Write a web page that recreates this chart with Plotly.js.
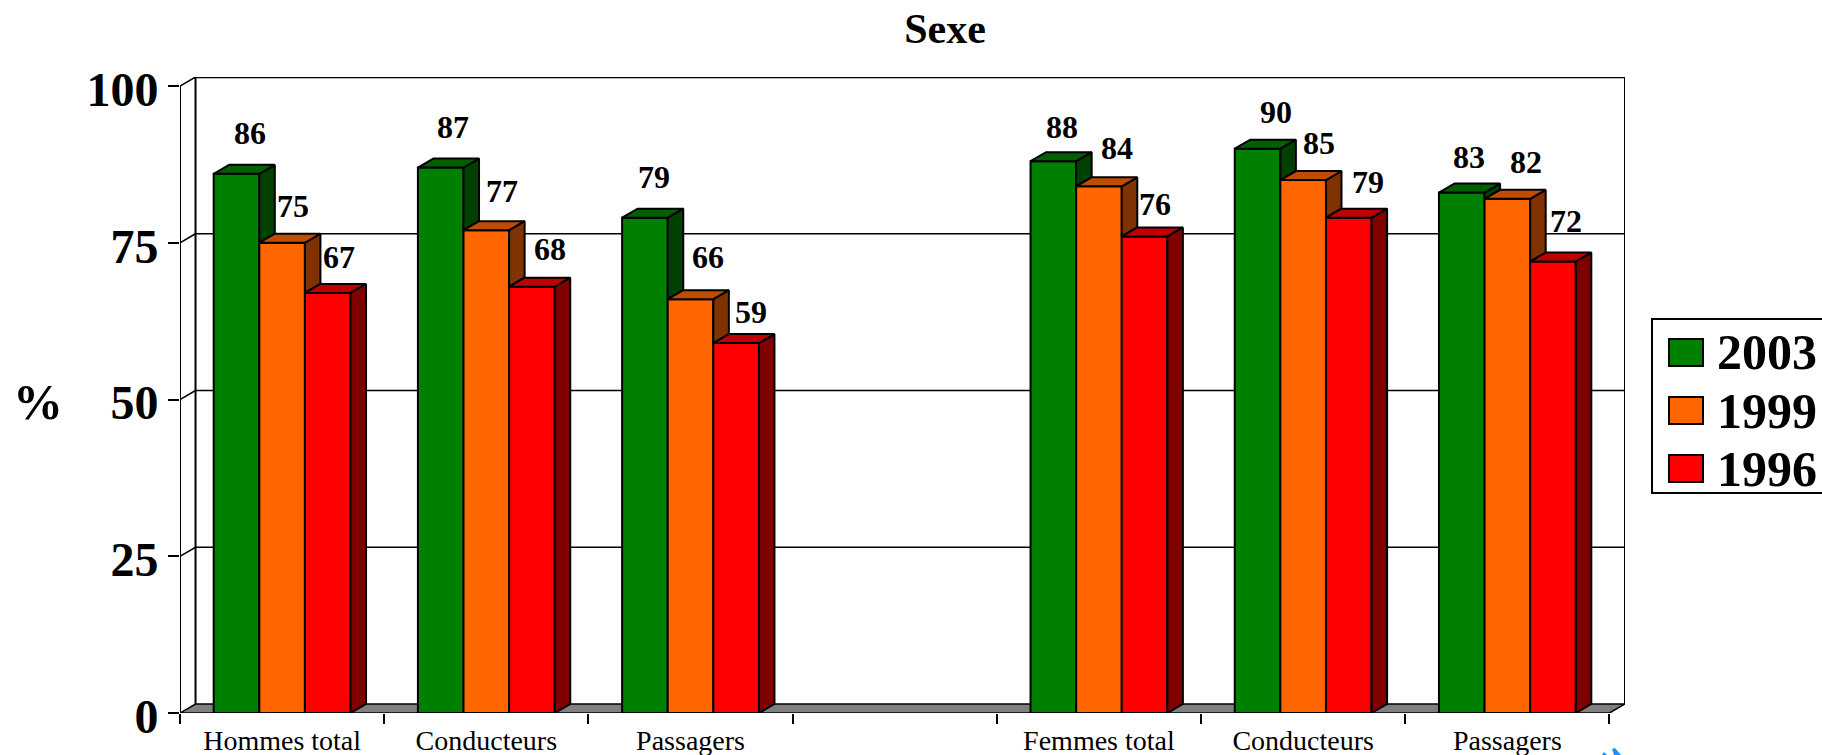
<!DOCTYPE html>
<html><head><meta charset="utf-8">
<script src="https://cdn.plot.ly/plotly-3.0.1.min.js"></script>
<style>html,body{margin:0;padding:0;background:#fff;overflow:hidden}#c{width:1822px;height:755px}</style>
</head><body><div id="c"></div>
<script>
const categories = ['Hommes total','Conducteurs','Passagers','','Femmes total','Conducteurs','Passagers'];
const years = ['2003','1999','1996'];
const v2003 = [86,87,79,null,88,90,83];
const v1999 = [75,77,66,null,84,85,82];
const v1996 = [67,68,59,null,76,79,72];
const yTicks = [0,25,50,75,100];
const front = ['#008000','#FF6600','#FF0000'];
const side  = ['#004000','#803300','#800000'];
const topc  = ['#006000','#C04C00','#C00000'];
// label nudges in pixels, relative to the top centre of each bar
const nudgeX = [[13,12,9,0,9,18,7],[11,16,17,0,18,16,19],[11,18,15,0,10,19,13]];
const nudgeY = [[41,41,41,0,34,37,36],[37,39,42,0,38,37,37],[36,38,31,0,32,36,41]];

const series = [v2003,v1999,v1996];
const L=180,R=197,T=77,B=42,W=1822,H=755;
const pw=W-L-R, ph=H-T-B;
const dx=0.076, dy=1.435, gap=0.33, bw=(1-gap)/3;
const xs = categories.map((_,i)=>i);
const traces=[];
series.forEach((vals,s)=>{
  traces.push({type:'bar',name:years[s],x:xs,y:vals,showlegend:false,hoverinfo:'x+y',
    marker:{color:front[s],line:{color:'#000',width:2}}});
});
series.forEach((vals,s)=>{
  const sx=[],sy=[],tx=[],ty=[];
  vals.forEach((v,i)=>{
    if(v===null) return;
    const x0=i+(s-1.5)*bw, x1=x0+bw;
    const low = s<2 ? series[s+1][i] : 0;
    sx.push(x1,x1+dx,x1+dx,x1,x1,null); sy.push(v,v+dy,low+dy,low,v,null);
    tx.push(x0,x1,x1+dx,x0+dx,x0,null); ty.push(v,v,v+dy,v+dy,v,null);
  });
  [[sx,sy,side[s]],[tx,ty,topc[s]]].forEach(p=>traces.push({type:'scatter',mode:'lines',x:p[0],y:p[1],fill:'toself',
    fillcolor:p[2],line:{color:'#000',width:2},showlegend:false,hoverinfo:'skip'}));
});
const xL=-0.5,xR=6.5;
const line=(x0,y0,x1,y1,w)=>({type:'line',xref:'x',yref:'y',x0,y0,x1,y1,layer:'below',line:{color:'#000',width:w||2}});
const shapes=[
  {type:'path',xref:'x',yref:'y',layer:'below',path:`M${xL},0L${xR},0L${xR+dx},${dy}L${xL+dx},${dy}Z`,fillcolor:'#808080',line:{color:'#000',width:1.5}},
  line(xL,0,xL,100), line(xL+dx,dy,xL+dx,100+dy), line(xR+dx,dy,xR+dx,100+dy),
  line(xL+dx,100+dy,xR+dx,100+dy,2.5),
];
yTicks.slice(1).forEach(t=>{
  shapes.push(line(xL,t,xL+dx,t+dy,1.5));
  if(t<100) shapes.push(line(xL+dx,t+dy,xR+dx,t+dy,1.5));
});
const px=x=>(x-L)/pw, py=y=>1-(y-T)/ph;
shapes.push({type:'rect',xref:'paper',yref:'paper',x0:px(1652),x1:px(1840),y0:py(319),y1:py(493),fillcolor:'#fff',line:{color:'#000',width:2}});
// stray blue fragment at the bottom edge of the reference
[[[1602,755],[1604,752],[1607,755]],[[1612,749],[1615,748],[1621,755],[1614,755]]].forEach(pts=>{
  shapes.push({type:'path',xref:'paper',yref:'paper',
    path:'M'+pts.map(p=>px(p[0])+','+py(p[1])).join('L')+'Z',fillcolor:'#1E90FF',line:{width:0}});
});
const ann=[];
const legY=[352.5,410.5,468.5];
years.forEach((y,s)=>{
  shapes.push({type:'rect',xref:'paper',yref:'paper',x0:px(1669),x1:px(1703),y0:py(legY[s]-13.5),y1:py(legY[s]+13.5),fillcolor:front[s],line:{color:'#000',width:2}});
  ann.push({xref:'paper',yref:'paper',x:px(1716),y:py(legY[s]),text:'<b>'+y+'</b>',showarrow:false,xanchor:'left',yanchor:'middle',
    font:{family:'Liberation Serif',size:50,color:'#000'},borderpad:0});
});
series.forEach((vals,s)=>vals.forEach((v,i)=>{
  if(v===null) return;
  ann.push({x:i+(s-1)*bw,y:v,text:'<b>'+v+'</b>',showarrow:false,xanchor:'center',yanchor:'middle',
    xshift:nudgeX[s][i],yshift:nudgeY[s][i],font:{family:'Liberation Serif',size:32,color:'#000'}});
}));
ann.push({xref:'paper',yref:'paper',x:px(38),y:py(402),text:'<b>%</b>',showarrow:false,xanchor:'center',yanchor:'middle',
  font:{family:'Liberation Serif',size:50,color:'#000'}});
const layout={
  width:W,height:H,paper_bgcolor:'#fff',plot_bgcolor:'#fff',showlegend:false,
  margin:{l:L,r:R,t:T,b:B,pad:0},
  barmode:'group',bargap:gap,bargroupgap:0,
  title:{text:'<b>Sexe</b>',x:945/W,xref:'container',xanchor:'center',y:1-28/H,yref:'container',yanchor:'middle',
    font:{family:'Liberation Serif',size:42,color:'#000'}},
  xaxis:{type:'linear',range:[xL,xR+dx],tickmode:'array',tickvals:xs,ticktext:categories,ticks:'',showgrid:false,zeroline:false,showline:false,
    tickfont:{family:'Liberation Serif',size:28,color:'#000'},ticklabelstandoff:8,
    minor:{tickmode:'array',tickvals:[-0.5,0.5,1.5,2.5,3.5,4.5,5.5,6.5],ticks:'outside',ticklen:10,tickwidth:2,tickcolor:'#000',showgrid:false}},
  yaxis:{range:[0,100+dy],tickmode:'array',tickvals:yTicks,ticks:'outside',ticklen:11,tickwidth:2,tickcolor:'#000',showgrid:false,zeroline:false,showline:false,
    tickfont:{family:'Liberation Serif',size:48,weight:'bold',color:'#000'},ticklabelstandoff:0,ticklabelshift:3},
  shapes,annotations:ann
};
Plotly.newPlot('c',traces,layout,{displayModeBar:false,staticPlot:true});
</script></body></html>
